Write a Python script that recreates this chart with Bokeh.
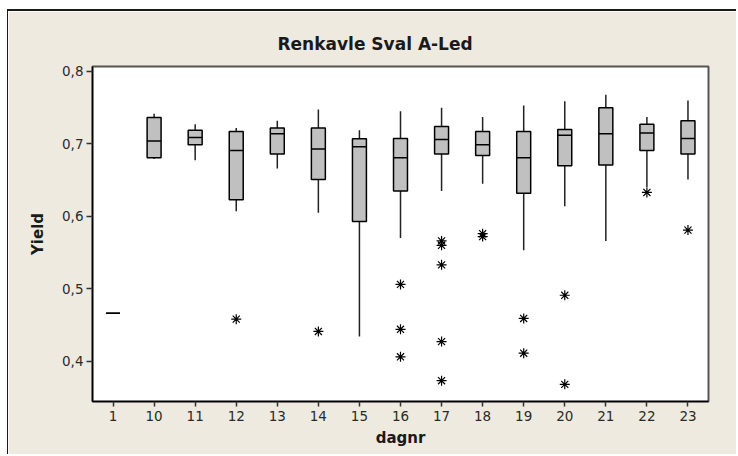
from bokeh.plotting import figure
from bokeh.models import Range1d, FixedTicker, ColumnDataSource
from bokeh.transform import dodge
from bokeh.embed import file_html
from bokeh.resources import INLINE

# ---- data ----
days = ["1", "10", "11", "12", "13", "14", "15", "16", "17", "18", "19", "20", "21", "22", "23"]
whisker_low = [0.466, 0.679, 0.6775, 0.607, 0.666, 0.605, 0.434, 0.570, 0.635, 0.645, 0.553, 0.614, 0.566, 0.640, 0.651]
q1 = [0.466, 0.681, 0.699, 0.623, 0.686, 0.651, 0.593, 0.635, 0.686, 0.684, 0.632, 0.670, 0.671, 0.691, 0.686]
median = [0.466, 0.704, 0.709, 0.691, 0.714, 0.693, 0.696, 0.681, 0.706, 0.699, 0.681, 0.712, 0.714, 0.715, 0.7075]
q3 = [0.466, 0.7365, 0.719, 0.717, 0.722, 0.722, 0.707, 0.7075, 0.724, 0.717, 0.717, 0.720, 0.750, 0.727, 0.732]
whisker_high = [0.466, 0.7416, 0.7273, 0.722, 0.732, 0.7475, 0.719, 0.745, 0.750, 0.737, 0.753, 0.759, 0.768, 0.737, 0.760]

outlier_day = ["12", "14", "16", "16", "16", "17", "17", "17", "17", "17",
               "18", "18", "19", "19", "20", "20", "22", "23"]
outlier_yield = [0.458, 0.441, 0.506, 0.444, 0.406, 0.566, 0.560, 0.533, 0.427, 0.373,
                 0.576, 0.572, 0.459, 0.411, 0.491, 0.368, 0.633, 0.581]

y_ticks = [0.4, 0.5, 0.6, 0.7, 0.8]
y_tick_labels = ["0,4", "0,5", "0,6", "0,7", "0,8"]

title_text = "Renkavle Sval A-Led"
x_label = "dagnr"
y_label = "Yield"

# ---- styling ----
BG = "#EEEAE0"
BOX_FILL = "#C0C0C0"
FONT = "DejaVu Sans"

src = ColumnDataSource(dict(day=days, lo=whisker_low, q1=q1, med=median, q3=q3, hi=whisker_high))
out_src = ColumnDataSource(dict(day=outlier_day, y=outlier_yield))

p = figure(x_range=days, y_range=Range1d(0.3443, 0.8069),
           width=729, height=445, output_backend="svg", toolbar_location=None,
           min_border_left=84, min_border_right=29, min_border_top=55, min_border_bottom=55)
p.margin = (9, 0, 0, 7)
p.styles = {"border-top": "2px solid #1a1a1a", "border-left": "1px solid #1a1a1a"}

p.background_fill_color = "white"
p.border_fill_color = BG
p.outline_line_color = "#555555"
p.outline_line_width = 2
p.xgrid.visible = False
p.ygrid.visible = False

p.title.text = title_text
p.title.align = "left"
p.title.offset = 185
p.title.vertical_align = "top"
p.title.text_font = FONT
p.title.text_font_size = "17px"
p.title.text_font_style = "bold"
p.title.text_color = "#1a1a1a"
p.title.standoff = 22

box_w = 0.34
p.segment(x0="day", y0="q3", x1="day", y1="hi", source=src, line_color="#222222", line_width=1.5)
p.segment(x0="day", y0="q1", x1="day", y1="lo", source=src, line_color="#222222", line_width=1.5)
p.vbar(x="day", bottom="q1", top="q3", width=box_w, source=src,
       fill_color=BOX_FILL, line_color="black", line_width=1.5)
p.segment(x0=dodge("day", -box_w / 2, range=p.x_range), y0="med",
          x1=dodge("day", box_w / 2, range=p.x_range), y1="med",
          source=src, line_color="black", line_width=1.5)
p.scatter(x="day", y="y", source=out_src, marker="asterisk", size=10,
          line_color="black", line_width=1.2)

for ax in (p.xaxis, p.yaxis):
    ax.axis_line_color = "black"
    ax.axis_line_width = 1.5
    ax.major_tick_line_color = "#333333"
    ax.major_tick_line_width = 1.5
    ax.major_tick_in = 0
    ax.minor_tick_line_color = None
    ax.major_label_text_font = FONT
    ax.major_label_text_font_size = "13.5px"
    ax.major_label_text_color = "#2a2a2a"
    ax.axis_label_text_font = FONT
    ax.axis_label_text_font_size = "15px"
    ax.axis_label_text_font_style = "bold"
    ax.axis_label_text_color = "#1a1a1a"

p.yaxis.ticker = FixedTicker(ticks=y_ticks)
p.yaxis.major_label_overrides = dict(zip(y_ticks, y_tick_labels))
p.yaxis.major_tick_out = 6
p.yaxis.major_label_standoff = 3
p.yaxis.axis_label = y_label
p.yaxis.axis_label_standoff = 12

p.xaxis.major_tick_out = 5
p.xaxis.major_label_standoff = 4
p.xaxis.axis_label = x_label
p.xaxis.axis_label_standoff = 5

open("out.html", "w").write(file_html(p, INLINE))
